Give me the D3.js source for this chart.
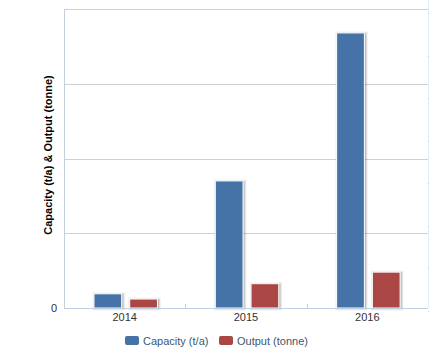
<!DOCTYPE html>
<html><head><meta charset="utf-8">
<script src="https://cdnjs.cloudflare.com/ajax/libs/d3/7.8.5/d3.min.js"></script>
<style>html,body{margin:0;padding:0;background:#fff;}svg{display:block;font-family:Arial,"Liberation Sans",sans-serif;}</style>
</head><body>
<svg id="c" width="429" height="357"></svg>
<script>
const categories = ["2014", "2015", "2016"];
const seriesNames = ["Capacity (t/a)", "Output (tonne)"];
const capacity = [1900, 17000, 36800];
const output = [1200, 3250, 4800];
const yTicks = [0, 10000, 20000, 30000, 40000];
const colors = ["#4572A7", "#AA4643"];

const svg = d3.select("#c");
const L = 64, R = 428, T = 9, B = 308;

const y = d3.scaleLinear().domain([0, 40000]).range([B, T]);
const x0 = d3.scaleBand().domain(categories).range([L, R]).padding(0);
const bw = x0.bandwidth();
const x1 = d3.scaleBand().domain(seriesNames).range([bw * 0.247, bw * 0.77]).paddingInner(0.224).paddingOuter(0);

// gridlines
svg.append("g").selectAll("line").data(yTicks).join("line")
  .attr("x1", L).attr("x2", R)
  .attr("y1", d => Math.round(y(d)) + 0.5).attr("y2", d => Math.round(y(d)) + 0.5)
  .attr("stroke", "#d0d0d0").attr("stroke-width", 1);

// left axis line
svg.append("line").attr("x1", L + 0.5).attr("x2", L + 0.5).attr("y1", T).attr("y2", B)
  .attr("stroke", "#C0D0E0");
// right axis line
svg.append("line").attr("x1", R + 0.5).attr("x2", R + 0.5).attr("y1", 0).attr("y2", B)
  .attr("stroke", "#e4ecf4");

// right small ticks (secondary axis)
const y2 = d3.scaleLinear().domain([0, 7]).range([311, 13]);
svg.append("g").selectAll("line").data(d3.range(8)).join("line")
  .attr("x1", R).attr("x2", R + 2)
  .attr("y1", d => Math.round(y2(d)) + 0.5).attr("y2", d => Math.round(y2(d)) + 0.5)
  .attr("stroke", "#C0D0E0");

// bars
const data = categories.map((c, i) => ({c, vals: [capacity[i], output[i]]}));
const g = svg.append("g");
data.forEach(d => {
  d.vals.forEach((v, j) => {
    const bx = x0(d.c) + x1(seriesNames[j]);
    const by = y(v);
    const w = x1.bandwidth();
    const h = B - by;
    // shadow
    [[5, 0.05], [3, 0.1], [1, 0.15]].forEach(([sw, op]) => {
      g.append("rect").attr("x", bx + 1).attr("y", by + 1).attr("width", w).attr("height", h - 1)
        .attr("fill", "none").attr("stroke", "#000").attr("stroke-opacity", op).attr("stroke-width", sw);
    });
    g.append("rect").attr("x", bx).attr("y", by).attr("width", w).attr("height", h)
      .attr("fill", colors[j]).attr("stroke", "#fff").attr("stroke-width", 1);
  });
});

// bottom axis line
svg.append("line").attr("x1", L).attr("x2", R).attr("y1", B + 0.5).attr("y2", B + 0.5)
  .attr("stroke", "#C0D0E0");
// category separator ticks
svg.append("g").selectAll("line").data(categories.slice(1)).join("line")
  .attr("x1", d => Math.round(x0(d)) + 0.5).attr("x2", d => Math.round(x0(d)) + 0.5)
  .attr("y1", B - 4).attr("y2", B)
  .attr("stroke", "#C0D0E0");

// x labels
svg.append("g").selectAll("text").data(categories).join("text")
  .attr("x", d => x0(d) + bw / 2).attr("y", 321)
  .attr("text-anchor", "middle").attr("font-size", "11px").attr("fill", "#333")
  .text(d => d);

// y labels (only zero shown)
svg.append("g").selectAll("text").data(yTicks.filter(d => d === 0)).join("text")
  .attr("x", 57).attr("y", d => y(d) + 4)
  .attr("text-anchor", "end").attr("font-size", "11px").attr("fill", "#333")
  .text(d => d3.format("d")(d));

// y title
svg.append("text")
  .attr("transform", "translate(52,155) rotate(-90)")
  .attr("text-anchor", "middle").attr("font-size", "11px").attr("font-weight", "bold").attr("fill", "#000")
  .text("Capacity (t/a) & Output (tonne)");

// legend
const legX = [125, 219];
const leg = svg.append("g");
seriesNames.forEach((s, j) => {
  leg.append("rect").attr("x", legX[j]).attr("y", 336).attr("width", 14).attr("height", 9)
    .attr("rx", 2).attr("fill", colors[j]);
  leg.append("text").attr("x", legX[j] + 18).attr("y", 345)
    .attr("font-size", "11px").attr("fill", "#3E576F").text(s);
});
</script>
</body></html>
